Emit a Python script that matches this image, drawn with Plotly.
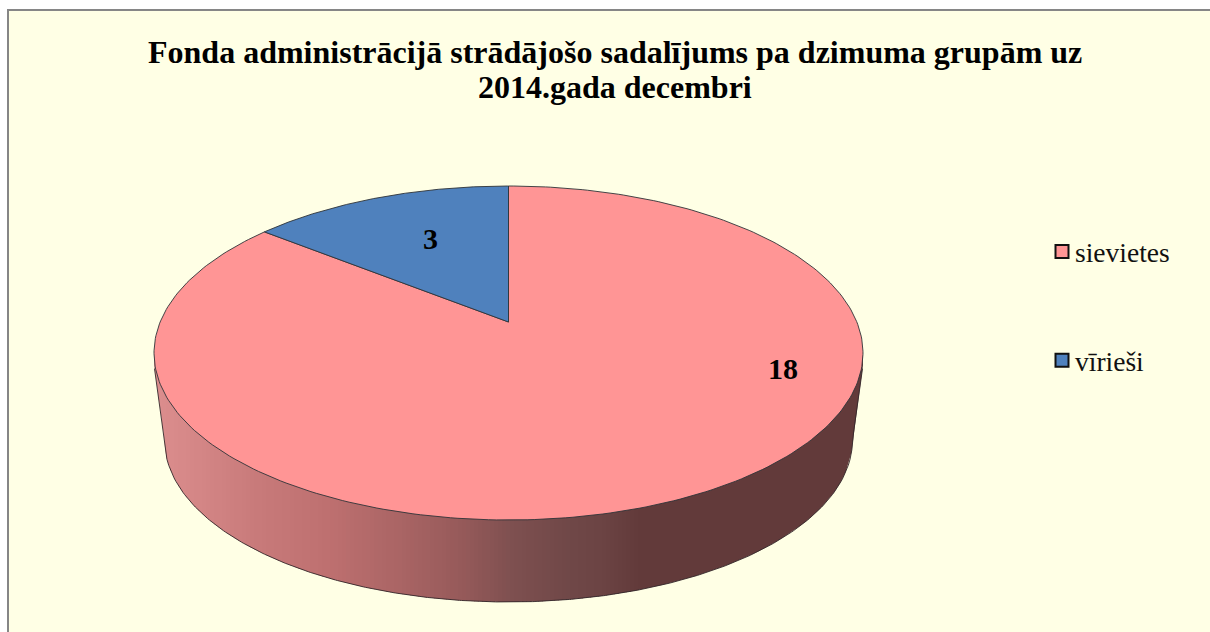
import numpy as np
import plotly.graph_objects as go

# ---- data ----
categories = ["sievietes", "vīrieši"]
values = [18, 3]
colors = ["#FF9595", "#4F81BD"]
title_lines = ["Fonda administrācijā strādājošo sadalījums pa dzimuma grupām uz", "2014.gada decembri"]

# ---- view geometry (pixels) ----
W, H = 1210, 632
CX, CY = 508.5, 353.0      # centre of the top ellipse
RX, RY = 354.5, 167.0      # top ellipse radii
APEX = 31.0                # pie centre lies this far above the ellipse centre (perspective)
BOT_CY, BOT_RX, BOT_RY = 440.0, 344.0, 162.0
SERIF = "Liberation Serif"
a = APEX / RY
A = RX * np.sqrt(1 - a * a)


def project(theta, r=1.0):
    """theta clockwise from 12 o'clock on the pie disc; projected with perspective."""
    u, v = r * np.sin(theta), r * np.cos(theta)
    w = 1 + a * v
    return CX + A * u / w, CY - (RY * v + APEX) / w


total = sum(values)
fig = go.Figure()

# side wall, as narrow bands with a horizontal gradient
stops_x = [154, 190, 260, 330, 400, 463, 513, 570, 600, 640, 870]
stops_r = [220, 214, 200, 190, 170, 150, 126, 112, 108, 98, 98]
stops_g = [142, 136, 122, 112, 101, 90, 80, 72, 68, 58, 58]
stops_b = stops_g


def wall_bottom(x):
    dx = np.asarray(x, float) - CX
    inner = BOT_CY + BOT_RY * np.sqrt(np.clip(1 - (dx / BOT_RX) ** 2, 0, 1))
    t = np.clip((np.abs(dx) - BOT_RX) / (RX - BOT_RX), 0, 1)
    return inner - t * (BOT_CY - (CY + 12))


edges = list(np.arange(CX - RX, 640, 4.0)) + [CX + RX]
for x0, x1 in zip(edges[:-1], edges[1:]):
    xs = np.linspace(x0, min(x1 + 1, CX + RX), 40 if x1 - x0 > 10 else 4)
    yb = wall_bottom(xs)
    xm = (x0 + x1) / 2 if x1 - x0 < 10 else x0
    col = "rgb(%d,%d,%d)" % (
        np.interp(xm, stops_x, stops_r),
        np.interp(xm, stops_x, stops_g),
        np.interp(xm, stops_x, stops_b),
    )
    fig.add_trace(go.Scatter(
        x=np.r_[xs, xs[::-1]], y=np.r_[np.full(len(xs), CY), yb[::-1]],
        mode="lines", line=dict(width=0), fill="toself", fillcolor=col,
        hoverinfo="skip", showlegend=False))

# wall outline
xs = np.linspace(CX - RX + 0.5, CX + RX - 0.5, 400)
fig.add_trace(go.Scatter(x=xs, y=wall_bottom(xs), mode="lines",
                         line=dict(color="#33272a", width=0.9), hoverinfo="skip", showlegend=False))

# top of the pie: slices run clockwise from 12 o'clock
start = 0.0
for name, val, col in zip(categories, values, colors):
    end = start + val / total * 2 * np.pi
    th = np.linspace(start, end, 300)
    px, py = project(th)
    ax, ay = project(0.0, 0.0)
    fig.add_trace(go.Scatter(
        x=np.r_[ax, px, ax], y=np.r_[ay, py, ay], mode="lines",
        line=dict(color="#2f3338", width=0.9), fill="toself", fillcolor=col,
        hoverinfo="skip", showlegend=False))
    start = end

# legend entries
for name, col in zip(categories, colors):
    fig.add_trace(go.Scatter(
        x=[None], y=[None], mode="markers", name=name, legendgroup=name,
        marker=dict(symbol="square", size=13, color=col, line=dict(color="#111111", width=2))))


def note(x, y, text, size):
    return dict(x=x, y=y, xref="x", yref="y", text="<b>%s</b>" % text, showarrow=False,
                font=dict(family=SERIF, size=size, color="#000000"),
                xanchor="center", yanchor="middle")


fig.update_layout(
    width=W, height=H, margin=dict(l=0, r=0, t=0, b=0),
    paper_bgcolor="#FFFFFF", plot_bgcolor="rgba(0,0,0,0)",
    xaxis=dict(range=[0, W], visible=False, fixedrange=True),
    yaxis=dict(range=[H, 0], visible=False, fixedrange=True),
    font=dict(family=SERIF, color="#000000"),
    legend=dict(x=1042 / W, y=1 - 227 / H, xanchor="left", yanchor="top",
                bgcolor="rgba(0,0,0,0)", tracegroupgap=70,
                font=dict(family=SERIF, size=27.5, color="#111111")),
    shapes=[dict(type="rect", xref="x", yref="y", x0=8, y0=10, x1=W + 10, y1=H + 10,
                 line=dict(color="#868686", width=2), fillcolor="#FFFFE5", layer="below")],
    annotations=[
        note(614.5, 52, title_lines[0], 32),
        note(614.5, 87, title_lines[1], 32),
        note(783, 368, values[0], 30),
        note(430, 238, values[1], 30),
    ],
)

fig.write_html(
    "out.html", config={"displayModeBar": False, "staticPlot": True},
    post_script=("document.body.style.margin='0';document.body.style.overflow='hidden';"
                 "document.querySelectorAll('.legendtext').forEach(t=>t.setAttribute('x',33));"))
